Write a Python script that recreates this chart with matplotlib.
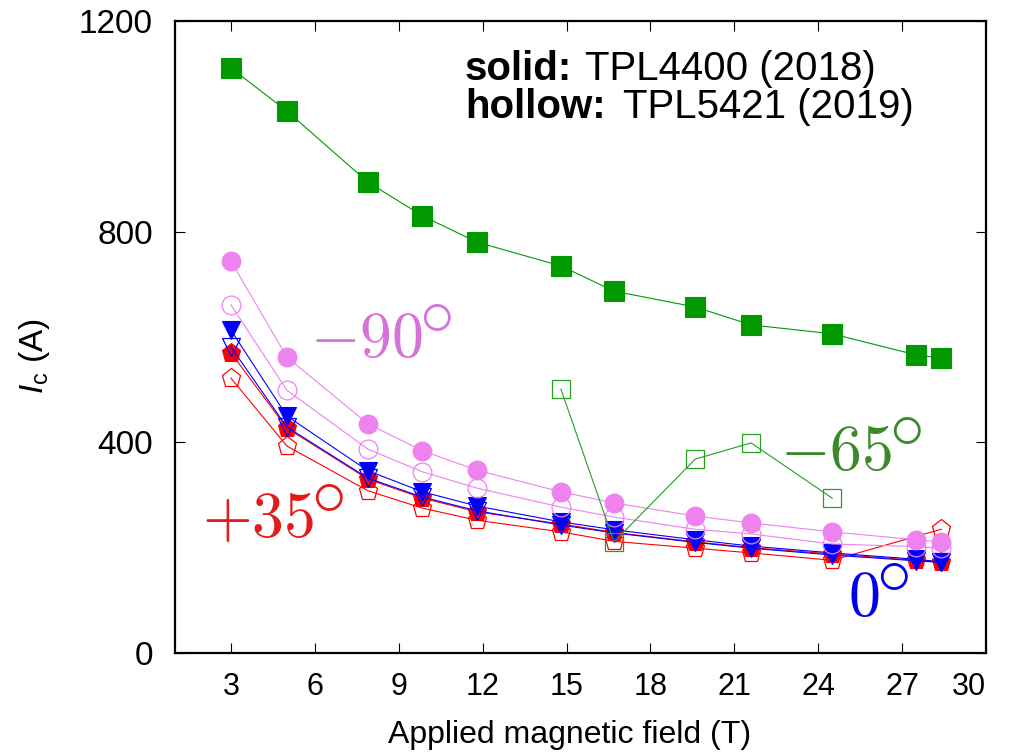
import numpy as np
import matplotlib
matplotlib.use("Agg")
import matplotlib.pyplot as plt

plt.rcParams['font.family'] = ['Liberation Sans', 'DejaVu Sans']
plt.rcParams['mathtext.fontset'] = 'custom'
plt.rcParams['mathtext.rm'] = 'Liberation Sans'
plt.rcParams['mathtext.it'] = 'Liberation Sans:italic'

# applied field (T)
field = [3, 5, 7.9, 9.85, 11.8, 14.8, 16.7, 19.6, 21.6, 24.5, 27.5, 28.4]
field_65_hollow = [14.8, 16.7, 19.6, 21.6, 24.5]
field_35_hollow = [3, 5, 7.9, 9.85, 11.8, 14.8, 16.7, 19.6, 21.6, 24.5, 28.4]

# critical current (A)
ic_65_solid = [1111, 1029, 894, 830, 780, 735, 687, 657, 623, 606, 566, 560]
ic_65_hollow = [501, 211, 368, 399, 294]
ic_90_solid = [744, 562, 435, 384, 347, 306, 285, 260, 247, 230, 215, 211]
ic_90_hollow = [661, 499, 387, 344, 313, 277, 258, 235, 226, 207, 202, 199]
ic_0_solid = [613, 450, 346, 306, 279, 249, 234, 215, 203, 190, 178, 173]
ic_0_hollow = [581, 429, 332, 296, 270, 243, 228, 210, 199, 186, 175, 172]
ic_35_solid = [570, 427, 330, 294, 268, 245, 229, 211, 200, 188, 176, 173]
ic_35_hollow = [522, 393, 308, 275, 252, 230, 212, 199, 190, 176, 235]

x_ticks = [3, 6, 9, 12, 15, 18, 21, 24, 27, 30]
y_ticks = [0, 400, 800, 1200]

GREEN = '#009900'
VIOLET = '#ee82ee'
BLUE = '#0000ff'
RED = '#ff0000'


def series(ax, x, y, color, marker, size, filled):
    if filled:
        ax.plot(x, y, color=color, lw=0.8, marker=marker, ms=size,
                mfc=color, mec=color, mew=0.8)
    else:
        ax.plot(x, y, color=color, lw=0.8, marker=marker, ms=size,
                mfc='none', mec=color, mew=0.9)


def angle_label(ax, x, y, num, color):
    # number right-aligned on its baseline at (x, y), degree ring up and right
    ax.text(x, y, '$' + num + '$', color=color, fontsize=46, ha='right',
            va='baseline', math_fontfamily='cm')
    ax.annotate(r'$\circ$', (x, y), xytext=(9.5, 30.5), textcoords='offset points',
                color=color, fontsize=50, ha='center', va='center',
                math_fontfamily='cm')


fig = plt.figure(figsize=(10.15, 7.55), dpi=100)
ax = fig.add_axes([175 / 1015, 102 / 755, 811 / 1015, 632 / 755])

series(ax, field_35_hollow, ic_35_hollow, RED, 'p', 14, False)
series(ax, field, ic_35_solid, RED, 'p', 14, True)
series(ax, field, ic_0_hollow, BLUE, 'v', 13, False)
series(ax, field, ic_0_solid, BLUE, 'v', 13, True)
series(ax, field, ic_90_hollow, VIOLET, 'o', 13.5, False)
series(ax, field, ic_90_solid, VIOLET, 'o', 13.5, True)
series(ax, field_65_hollow, ic_65_hollow, '#22a022', 's', 13.5, False)
series(ax, field, ic_65_solid, GREEN, 's', 14.5, True)

ax.set_xlim(1, 30)
ax.set_ylim(0, 1200)
ax.set_xticks(x_ticks)
ax.set_yticks(y_ticks)
ax.tick_params(direction='in', length=7, width=0.8, top=True, right=True)
ax.tick_params(axis='x', pad=14, labelsize=22)
ax.tick_params(axis='y', pad=16, labelsize=24)
ax.get_xticklabels()[-1].set_ha('right')
for s in ax.spines.values():
    s.set_linewidth(1.6)

ax.set_xlabel('Applied magnetic field (T)', fontsize=23)
ax.xaxis.set_label_coords(0.487, -0.106)
ax.set_ylabel(r'$I_{\rm c}$ (A)', fontsize=24)
ax.yaxis.set_label_coords(-0.152, 0.47)

# angle labels
angle_label(ax, 9.85, 562, '-90', '#d673d8')
angle_label(ax, 5.98, 220, '+35', '#e41a1c')
angle_label(ax, 26.65, 347, '-65', '#3a8a2a')
angle_label(ax, 26.18, 70, '0', '#0000ee')

# sample key
ax.text(0.3576, 0.9066, 'solid:', transform=ax.transAxes, fontsize=29,
        fontweight='bold', va='baseline')
ax.text(0.5055, 0.9066, 'TPL4400 (2018)', transform=ax.transAxes,
        fontsize=29, va='baseline')
ax.text(0.3576, 0.8465, 'hollow:', transform=ax.transAxes, fontsize=29,
        fontweight='bold', va='baseline')
ax.text(0.5524, 0.8465, 'TPL5421 (2019)', transform=ax.transAxes,
        fontsize=29, va='baseline')

fig.savefig('out.png', dpi=100)
